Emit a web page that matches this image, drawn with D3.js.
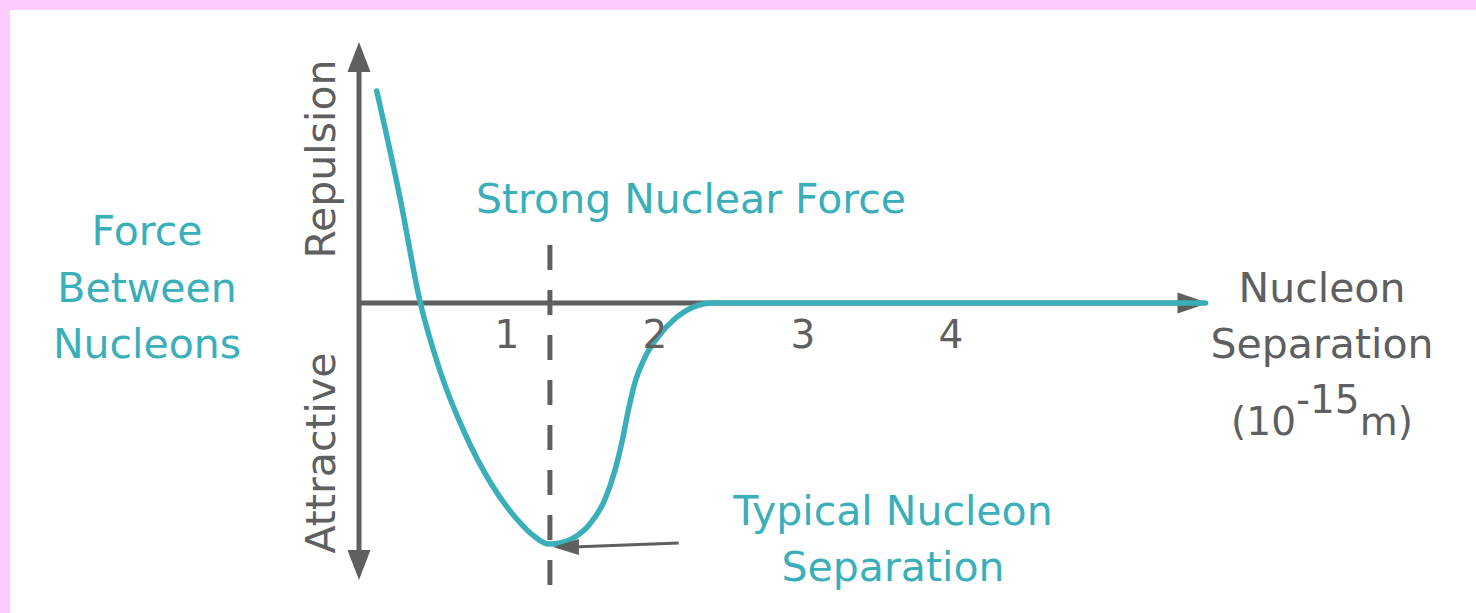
<!DOCTYPE html>
<html>
<head>
<meta charset="utf-8">
<script src="https://cdn.jsdelivr.net/npm/d3@7"></script>
<style>
  body { margin: 0; background: #fff; }
  text { font-family: "DejaVu Sans", sans-serif; }
</style>
</head>
<body>
<svg id="chart" width="1476" height="613"></svg>
<script>
// separation (10^-15 m) and force (arbitrary units)
const sep   = [0.12, 0.28, 0.41, 0.55, 0.72, 0.89, 1.06, 1.19, 1.28, 1.36, 1.46, 1.56, 1.66, 1.73, 1.78, 1.82, 1.86, 1.93, 2.02, 2.14, 2.26, 2.39, 2.55, 3.66, 5.72]
const force = [2.12, 1.03, 0.03, -0.69, -1.32, -1.80, -2.15, -2.34, -2.41, -2.40, -2.34, -2.21, -1.97, -1.67, -1.37, -1.07, -0.82, -0.55, -0.34, -0.15, -0.04, 0, 0, 0, 0]
const xTicks = [1, 2, 3, 4]
const typicalSep = 1.29
const xEnd = 5.74
const yTop = 2.61, yBottom = -2.77

const teal = "#3aafb9"
const grey = "#5f5f5f"

const svg = d3.select("#chart")

// pink frame
svg.append("rect").attr("x", 0).attr("y", 0).attr("width", 1476).attr("height", 613).attr("fill", "#fecbfd")
svg.append("rect").attr("x", 10).attr("y", 10).attr("width", 1466).attr("height", 603).attr("fill", "#fff")

const x = d3.scaleLinear().domain([0, 1]).range([359, 507])
const y = d3.scaleLinear().domain([-3, 3]).range([603, 3])

// dashed marker at typical separation
svg.append("line")
  .attr("x1", x(typicalSep)).attr("x2", x(typicalSep))
  .attr("y1", 245).attr("y2", 585)
  .attr("stroke", grey).attr("stroke-width", 5)
  .attr("stroke-dasharray", "25,20")

// axes with arrow heads
svg.append("line")
  .attr("x1", x(0)).attr("x2", x(0)).attr("y1", y(yTop) + 20).attr("y2", y(yBottom) - 20)
  .attr("stroke", grey).attr("stroke-width", 5)
svg.append("line")
  .attr("x1", x(0)).attr("x2", x(xEnd) - 20).attr("y1", y(0)).attr("y2", y(0))
  .attr("stroke", grey).attr("stroke-width", 5)

const head = (tx, ty, dir, len, half) => {
  // dir: unit vector of arrow direction
  const bx = tx - dir[0] * len, by = ty - dir[1] * len
  const px = -dir[1] * half, py = dir[0] * half
  return `M${tx},${ty}L${bx + px},${by + py}L${bx - px},${by - py}Z`
}
svg.append("path").attr("d", head(x(0), y(yTop), [0, -1], 30, 11.5)).attr("fill", grey)
svg.append("path").attr("d", head(x(0), y(yBottom), [0, 1], 30, 11.5)).attr("fill", grey)
svg.append("path").attr("d", head(x(xEnd), y(0), [1, 0], 31, 10.5)).attr("fill", grey)

// force curve
const line = d3.line()
  .x(d => x(d[0]))
  .y(d => y(d[1]))
  .curve(d3.curveMonotoneX)

svg.append("path")
  .datum(sep.map((s, i) => [s, force[i]]))
  .attr("d", line)
  .attr("fill", "none")
  .attr("stroke", teal)
  .attr("stroke-width", 5.5)
  .attr("stroke-linecap", "round")

// tick labels
svg.selectAll(".tick")
  .data(xTicks)
  .join("text")
  .attr("class", "tick")
  .attr("x", d => x(d))
  .attr("y", 348)
  .attr("text-anchor", "middle")
  .attr("fill", grey)
  .style("font-size", "39px")
  .text(d => d)

// arrow to the minimum
const minI = force.indexOf(d3.min(force))
const tipX = x(typicalSep) + 3, tipY = y(force[minI]) + 3
svg.append("line")
  .attr("x1", x(2.16)).attr("y1", y(-2.40))
  .attr("x2", tipX + 20).attr("y2", tipY)
  .attr("stroke", grey).attr("stroke-width", 3)
svg.append("path").attr("d", head(tipX, tipY, [-1, 0], 26, 8)).attr("fill", grey)

// axis words
svg.append("text")
  .attr("transform", `translate(335,159) rotate(-90)`)
  .attr("text-anchor", "middle").attr("fill", grey)
  .style("font-size", "41px").text("Repulsion")
svg.append("text")
  .attr("transform", `translate(335,453) rotate(-90)`)
  .attr("text-anchor", "middle").attr("fill", grey)
  .style("font-size", "41px").text("Attractive")

const block = (lines, cx, baselines, color) => {
  lines.forEach((t, i) => {
    svg.append("text")
      .attr("x", cx).attr("y", baselines[i])
      .attr("text-anchor", "middle").attr("fill", color)
      .style("font-size", "41px").text(t)
  })
}

block(["Force", "Between", "Nucleons"], 147, [245, 302, 358], teal)
block(["Strong Nuclear Force"], 691, [213], teal)
block(["Typical Nucleon", "Separation"], 893, [525, 581], teal)
block(["Nucleon", "Separation"], 1322, [302, 358], grey)

const unit = svg.append("text")
  .attr("x", 1322).attr("y", 435)
  .attr("text-anchor", "middle").attr("fill", grey)
  .style("font-size", "39px")
unit.append("tspan").text("(10")
unit.append("tspan").attr("dy", -22).text("-15")
unit.append("tspan").attr("dy", 22).text("m)")
</script>
</body>
</html>
